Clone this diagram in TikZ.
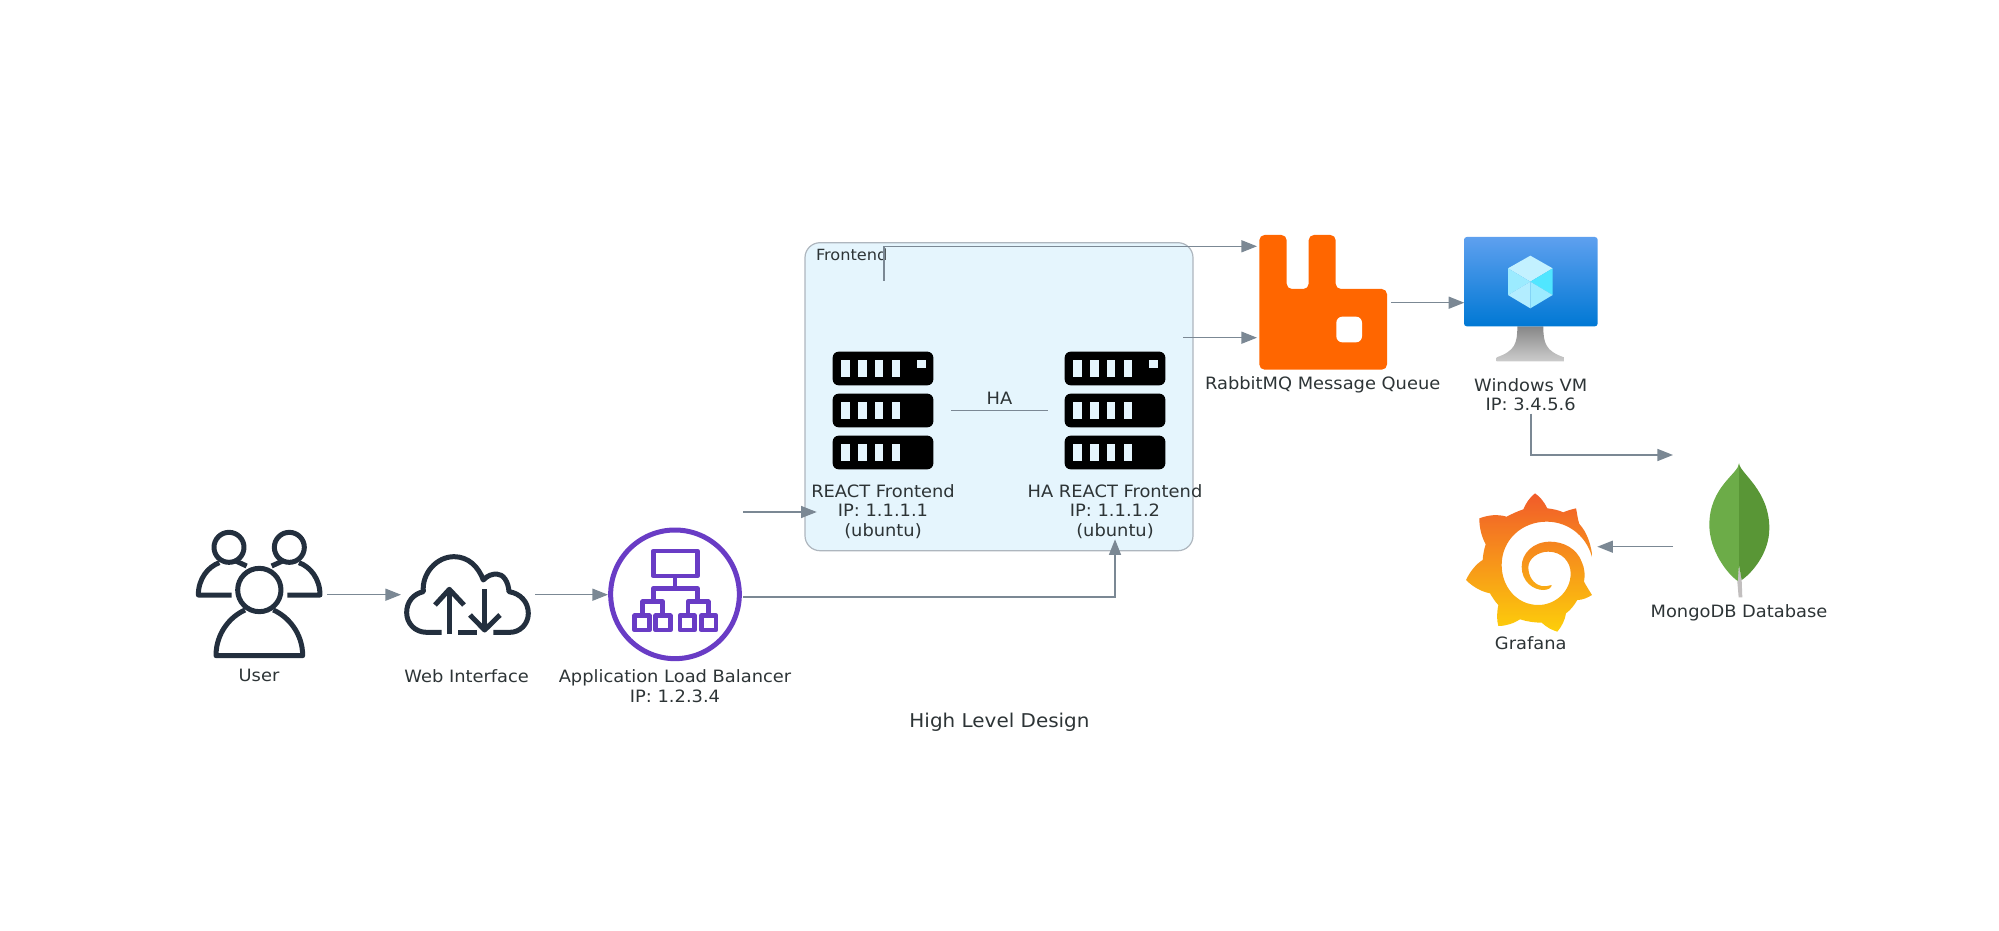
\documentclass[tikz,border=0pt]{standalone}
\usepackage{fontspec}
\setmainfont[FakeStretch=1.05]{DejaVu Sans}
\usetikzlibrary{arrows.meta}
\definecolor{edgec}{HTML}{7B8894}
\definecolor{txtc}{HTML}{2D3436}
\definecolor{clfill}{HTML}{E5F5FD}
\definecolor{clline}{HTML}{AEB6BE}
\definecolor{ink}{HTML}{232F3E}
\definecolor{albc}{HTML}{693CC5}
\definecolor{rabbitc}{HTML}{FF6600}
\tikzset{
  iconbox/.style={inner sep=0pt,outer sep=0pt,draw=none,fill=none},
  lab/.style={inner sep=0pt,outer sep=0pt,align=center,text=txtc,font=\fontsize{8.5}{9.8}\selectfont},
  conn/.style={draw=edgec,line width=0.7pt,-{Triangle[length=7.8pt,width=6pt]},rounded corners=0pt},
  plainconn/.style={draw=edgec,line width=0.6pt},
  inkline/.style={draw=ink,line width=2.5pt,line join=round,line cap=butt},
  albline/.style={draw=albc,line width=2.3pt,line join=round},
  zoomA/.style={shift={(180,510)},scale=1/3},
  zoomB/.style={shift={(540,500)},scale=1/3},
  zoomC/.style={shift={(800,230)},scale=1/3},
  zoomD/.style={shift={(1180,225)},scale=1/3},
  zoomE/.style={shift={(1440,450)},scale=1/3},
}
\begin{document}
\begin{tikzpicture}[x=0.5pt,y=-0.5pt]
\useasboundingbox (0,0) rectangle (1999,931);
% cluster
\node[draw=clline,fill=clfill,line width=0.6pt,rounded corners=7.5pt,minimum width=194pt,minimum height=154pt,inner sep=0pt,outer sep=0pt] (cluster) at (999,396.7) {};
\node[lab,anchor=west,font=\fontsize{7.7}{9}\selectfont] (clusterlab) at (816,255) {Frontend};
% invisible icon boxes used as connector anchors
\node[iconbox,minimum width=66pt,minimum height=65pt] (user) at (261,594.7) {};
\node[iconbox,minimum width=67pt,minimum height=60pt] (web) at (468,594.7) {};
\node[iconbox,minimum width=67.5pt,minimum height=85pt] (alb) at (675.5,597) {};
\node[iconbox,minimum width=67.3pt,minimum height=115.65pt] (fe) at (884,396.35) {};
\node[iconbox,minimum width=68pt,minimum height=100.8pt] (ha) at (1115,438.5) {};
\node[iconbox,minimum width=67pt,minimum height=56.4pt] (rabbit) at (1324,302.7) {};
\node[iconbox,minimum width=66.5pt,minimum height=111pt] (vm) at (1530.8,302.7) {};
\node[iconbox,minimum width=66pt,minimum height=91.7pt] (mongo) at (1739,546.7) {};
\node[iconbox,minimum width=66pt,minimum height=88pt] (grafana) at (1531.3,546.7) {};
% users
\begin{scope}[zoomA]
  \draw[inkline] (147,112) circle[radius=45];
  \draw[inkline] (328,112) circle[radius=45];
  \draw[inkline] (155,255) -- (55,255) .. controls (55,205) and (85,170) .. (118,158);
  \draw[inkline] (165,152) -- (200,168);
  \draw[inkline] (322,255) -- (420,255) .. controls (420,205) and (390,170) .. (357,158);
  \draw[inkline] (275,168) -- (310,152);
  \draw[inkline] (238,240) circle[radius=65];
  \draw[inkline] (195,300) .. controls (150,320) and (108,370) .. (108,437) -- (368,437) .. controls (368,370) and (325,320) .. (280,300);
% cloud
  \draw[inkline] (785,367) -- (740,367) .. controls (705,367) and (680,340) .. (680,308)
    .. controls (680,275) and (700,252) .. (730,245)
    .. controls (725,190) and (770,140) .. (822,140)
    .. controls (865,140) and (895,170) .. (910,210)
    .. controls (922,196) and (938,192) .. (950,192)
    .. controls (970,192) and (985,215) .. (987,245)
    .. controls (1020,250) and (1045,275) .. (1045,310)
    .. controls (1045,342) and (1020,367) .. (990,367) -- (940,367);
  \draw[inkline] (835,367) -- (890,367);
  \draw[inkline] (808,372) -- (808,238);
  \draw[inkline] (765,285) -- (808,238) -- (852,285);
  \draw[inkline] (914,238) -- (914,360);
  \draw[inkline] (870,315) -- (914,360) -- (960,315);
\end{scope}
% load balancer
\begin{scope}[zoomB]
  \draw[draw=albc,line width=2.5pt] (405,283) circle[radius=193];
  \draw[albline] (340,153) rectangle (472,228);
  \draw[albline] (405,228) -- (405,265);
  \draw[albline] (340,305) -- (340,265) -- (472,265) -- (472,305);
  \draw[albline] (308,345) -- (308,305) -- (368,305) -- (368,345);
  \draw[albline] (444,345) -- (444,305) -- (505,305) -- (505,345);
  \foreach \bx in {284,347,420,484} \draw[albline] (\bx,347) rectangle ++(44,43);
\end{scope}
% servers
\begin{scope}[zoomC]
  \foreach \dx in {0,696} {
      \foreach \ry in {365,491,617} {
        \fill[black,rounded corners=3pt] (98+\dx,\ry) rectangle ++(302,101);
        \foreach \bx in {123,174,224,275} \fill[clfill] (\bx+\dx,\ry+25) rectangle ++(26,50);
      }
      \fill[clfill] (351+\dx,390) rectangle ++(26,25);
  }
\end{scope}
% rabbitmq
\begin{scope}[zoomD]
  \fill[rabbitc,rounded corners=2.6pt]
    (238,30) -- (320,30) -- (320,192) -- (386,192) -- (386,30) -- (467,30) -- (467,192) -- (621,192) -- (621,434) -- (238,434) -- cycle;
  \fill[white,rounded corners=3pt] (469,275) rectangle (546,352);
% vm
  \shade[top color=black!47,bottom color=black!20]
    (1012,304) .. controls (1012,355) and (1005,378) .. (950,397) -- (950,409) -- (1152,409) -- (1152,397) .. controls (1097,378) and (1090,355) .. (1090,304) -- cycle;
  \definecolor{vmtop}{HTML}{5EA0EF}\definecolor{vmbot}{HTML}{0078D4}
  \shade[top color=vmtop,bottom color=vmbot,rounded corners=1.4pt] (852,36) rectangle (1253,304);
  \fill[color={rgb,255:red,195;green,241;blue,255}] (1051,92) -- (1118,130) -- (1051,170) -- (984,130) -- cycle;
  \fill[color={rgb,255:red,156;green,235;blue,255}] (984,130) -- (1051,170) -- (984,210) -- cycle;
  \fill[color={rgb,255:red,80;green,230;blue,255}] (1118,130) -- (1051,170) -- (1118,210) -- cycle;
  \fill[color={rgb,255:red,179;green,237;blue,255}] (984,210) -- (1051,170) -- (1051,250) -- cycle;
  \fill[color={rgb,255:red,156;green,235;blue,255}] (1118,210) -- (1051,170) -- (1051,250) -- cycle;
\end{scope}
% grafana and mongo
\begin{scope}[zoomE]
  \definecolor{gftop}{HTML}{F15B2A}\definecolor{gfmid}{HTML}{F6851F}\definecolor{gfbot}{HTML}{FDCF0A}
  \shade[top color=gftop,middle color=gfmid,bottom color=gfbot]
    (458,330) .. controls (455,285) and (440,245) .. (418,222)
    .. controls (412,205) and (412,190) .. (408,175)
    .. controls (395,178) and (380,182) .. (370,187)
    .. controls (355,180) and (338,177) .. (322,175)
    .. controls (312,155) and (300,140) .. (285,130)
    .. controls (270,142) and (258,158) .. (250,178)
    .. controls (232,184) and (215,192) .. (200,200)
    .. controls (172,192) and (145,195) .. (118,205)
    .. controls (118,235) and (125,260) .. (137,283)
    .. controls (132,298) and (129,315) .. (128,330)
    .. controls (108,342) and (90,365) .. (78,390)
    .. controls (100,412) and (125,425) .. (150,430)
    .. controls (158,443) and (165,455) .. (175,465)
    .. controls (170,490) and (170,510) .. (175,528)
    .. controls (198,528) and (222,520) .. (240,508)
    .. controls (262,515) and (285,518) .. (305,518)
    .. controls (320,532) and (335,540) .. (352,545)
    .. controls (365,530) and (375,510) .. (378,490)
    .. controls (392,480) and (403,465) .. (412,450)
    .. controls (428,450) and (443,443) .. (456,435)
    .. controls (448,422) and (440,410) .. (432,395)
    .. controls (436,375) and (434,355) .. (425,335)
    .. controls (410,295) and (370,275) .. (330,275)
    .. controls (280,275) and (245,310) .. (245,350)
    .. controls (245,395) and (280,420) .. (310,420)
    .. controls (325,420) and (335,413) .. (335,405)
    .. controls (325,408) and (315,410) .. (305,408)
    .. controls (280,403) and (265,378) .. (265,352)
    .. controls (265,325) and (295,305) .. (325,305)
    .. controls (365,305) and (392,335) .. (392,370)
    .. controls (392,425) and (345,465) .. (295,465)
    .. controls (230,465) and (185,410) .. (185,345)
    .. controls (185,270) and (245,215) .. (320,215)
    .. controls (390,215) and (445,265) .. (458,330) -- cycle;
  \definecolor{mgl}{HTML}{6CAC48}\definecolor{mgr}{HTML}{599636}\definecolor{mgs}{HTML}{C2BFBF}
  \fill[mgs] (897,345) -- (905,390) -- (907,442) -- (896,442) -- (892,395) -- cycle;
  \fill[mgl] (897,40) .. controls (897,70) and (808,110) .. (808,225) .. controls (808,300) and (860,370) .. (893,393) -- (897,345) -- cycle;
  \fill[mgr] (897,40) .. controls (900,70) and (988,120) .. (988,235) .. controls (988,310) and (935,370) .. (905,390) -- (897,345) -- cycle;
\end{scope}
% labels
\node[lab] (userlab) at (259,675.7) {User};
\node[lab] (weblab) at (466.7,675.7) {Web Interface};
\node[lab] (alblab) at (675,686) {Application Load Balancer\\IP: 1.2.3.4};
\node[lab] (felab) at (883,511.5) {REACT Frontend\\IP: 1.1.1.1\\(ubuntu)};
\node[lab] (halab) at (1115,511.5) {HA REACT Frontend\\IP: 1.1.1.2\\(ubuntu)};
\node[lab] (rabbitlab) at (1322.7,385) {RabbitMQ Message Queue};
\node[lab] (vmlab) at (1530.7,394.5) {Windows VM\\IP: 3.4.5.6};
\node[lab] (grafanalab) at (1530.7,643.3) {Grafana};
\node[lab] (mongolab) at (1739,612.7) {MongoDB Database};
\node[lab,font=\fontsize{9.5}{11}\selectfont] (title) at (999.5,722) {High Level Design};
% connectors
\draw[conn] (user.east) -- (web.west);
\draw[conn] (web.east) -- (web.east -| alb.west);
\draw[conn] (alb.north east) -- (fe.south west);
\draw[conn] (alb.east) -| (ha.south);
\draw[conn] (fe.north) |- (rabbit.north west);
\draw[conn] (ha.north east) -- (ha.north east -| rabbit.west);
\draw[conn] (rabbit.east) -- (vm.west);
\draw[conn] (vm.south) |- (mongo.north west);
\draw[conn] (mongo.west) -- (grafana.east);
\coordinate (hastart) at (951,410.7);
\coordinate (haend) at (1048,410.7);
\draw[plainconn] (hastart) -- node[lab,above=3pt] (halink) {HA} (haend);
\end{tikzpicture}
\end{document}
